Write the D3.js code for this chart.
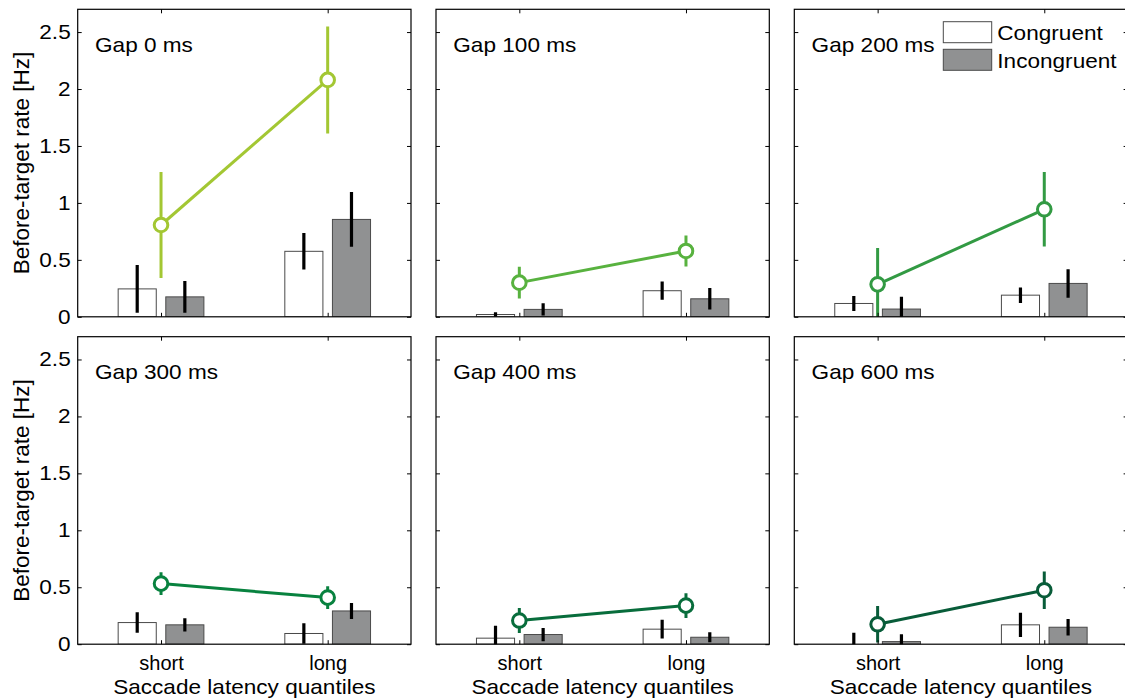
<!DOCTYPE html>
<html>
<head>
<meta charset="utf-8">
<script src="https://cdn.jsdelivr.net/npm/d3@7"></script>
<style>
  html, body { margin: 0; padding: 0; background: #fff; }
  svg { display: block; font-family: "Liberation Sans", Arial, Helvetica, sans-serif; }
</style>
</head>
<body>
<svg id="chart" width="1125" height="700"></svg>
<script>
// Saccade latency quantile categories
const categories = ["short", "long"];
// One panel per gap duration
const gapLabels = ["Gap 0 ms", "Gap 100 ms", "Gap 200 ms", "Gap 300 ms", "Gap 400 ms", "Gap 600 ms"];

// Bar values (congruent / incongruent) per panel, [short, long]
const congruent      = [[0.245, 0.575], [0.020, 0.229], [0.117, 0.190], [0.190, 0.094], [0.053, 0.132], [0.000, 0.170]];
const congruentErr   = [[0.210, 0.160], [0.020, 0.080], [0.066, 0.068], [0.090, 0.090], [0.110, 0.083], [0.100, 0.107]];
const incongruent    = [[0.175, 0.855], [0.065, 0.158], [0.068, 0.293], [0.170, 0.292], [0.085, 0.061], [0.023, 0.149]];
const incongruentErr = [[0.140, 0.240], [0.053, 0.094], [0.108, 0.125], [0.058, 0.070], [0.058, 0.044], [0.065, 0.072]];

// Overall before-target rate (line with open circles), [short, long]
const rate    = [[0.806, 2.080], [0.300, 0.578], [0.285, 0.944], [0.532, 0.409], [0.208, 0.339], [0.175, 0.474]];
const rateErr = [[0.466, 0.470], [0.140, 0.136], [0.320, 0.327], [0.100, 0.100], [0.110, 0.108], [0.160, 0.165]];

const lineColors = ["#a3c733", "#58b23f", "#329a43", "#08823f", "#086d3c", "#085c39"];

const yTicks = [0, 0.5, 1, 1.5, 2, 2.5];
const yTickLabels = ["0", "0.5", "1", "1.5", "2", "2.5"];
const legendLabels = ["Congruent", "Incongruent"];
const yLabel = "Before-target rate [Hz]";
const xLabel = "Saccade latency quantiles";

// Layout
const colLeft = [77.7, 436, 794.3];
const rowTop = [9.3, 336.7];
const pw = 333.3, ph = 307.5;
const sx = 1.13;          // horizontal text stretch
const fs = 20;

const svg = d3.select("#chart");

const x = d3.scaleLinear().domain([0.5, 2.5]).range([0, pw]);
const y = d3.scaleLinear().domain([0, 2.7]).range([ph, 0]);
const barOffset = 0.1429, barWidth = 0.2286;

gapLabels.forEach((label, i) => {
  const col = i % 3, row = Math.floor(i / 3);
  const g = svg.append("g").attr("transform", `translate(${colLeft[col]},${rowTop[row]})`);

  const clipId = "clip" + i;
  g.append("clipPath").attr("id", clipId)
    .append("rect").attr("x", 0).attr("y", 0).attr("width", pw).attr("height", ph);

  const plot = g.append("g").attr("clip-path", `url(#${clipId})`);

  // bars
  const series = [
    {vals: congruent[i], errs: congruentErr[i], off: -barOffset, fill: "#ffffff"},
    {vals: incongruent[i], errs: incongruentErr[i], off: barOffset, fill: "#909192"}
  ];
  series.forEach(s => {
    s.vals.forEach((v, k) => {
      const cx = k + 1 + s.off;
      plot.append("rect")
        .attr("x", x(cx - barWidth / 2))
        .attr("width", x(cx + barWidth / 2) - x(cx - barWidth / 2))
        .attr("y", y(v))
        .attr("height", y(0) - y(v))
        .attr("fill", s.fill)
        .attr("stroke", "#4a4a4a")
        .attr("stroke-width", 1);
    });
    s.vals.forEach((v, k) => {
      const cx = k + 1 + s.off;
      plot.append("line")
        .attr("x1", x(cx)).attr("x2", x(cx))
        .attr("y1", y(v - s.errs[k])).attr("y2", y(v + s.errs[k]))
        .attr("stroke", "#000").attr("stroke-width", 3.2);
    });
  });

  // rate line with error bars
  const color = lineColors[i];
  rate[i].forEach((v, k) => {
    plot.append("line")
      .attr("x1", x(k + 1)).attr("x2", x(k + 1))
      .attr("y1", y(v - rateErr[i][k])).attr("y2", y(v + rateErr[i][k]))
      .attr("stroke", color).attr("stroke-width", 3);
  });
  plot.append("path")
    .datum(rate[i])
    .attr("d", d3.line().x((d, k) => x(k + 1)).y(d => y(d)))
    .attr("fill", "none").attr("stroke", color).attr("stroke-width", 3);
  plot.selectAll("circle.pt").data(rate[i]).join("circle")
    .attr("class", "pt")
    .attr("cx", (d, k) => x(k + 1)).attr("cy", d => y(d))
    .attr("r", 6.8)
    .attr("fill", "#fff").attr("stroke", color).attr("stroke-width", 3);

  // axes (inward ticks on all four sides)
  const left = g.append("g").call(
    d3.axisLeft(y).tickValues(yTicks).tickSize(-4).tickSizeOuter(0).tickPadding(7)
      .tickFormat((d, k) => col === 0 ? yTickLabels[k] : ""));
  const right = g.append("g").attr("transform", `translate(${pw},0)`).call(
    d3.axisRight(y).tickValues(yTicks).tickSize(-4).tickSizeOuter(0).tickFormat(""));
  const top = g.append("g").call(
    d3.axisTop(x).tickValues([1, 2]).tickSize(-4).tickSizeOuter(0).tickFormat(""));
  const bottom = g.append("g").attr("transform", `translate(0,${ph})`).call(
    d3.axisBottom(x).tickValues([1, 2]).tickSize(-4).tickSizeOuter(0).tickPadding(12)
      .tickFormat((d, k) => row === 1 ? categories[k] : ""));

  [left, right, top, bottom].forEach(a => {
    a.select(".domain").remove();
    a.selectAll(".tick line").attr("stroke", "#000").attr("stroke-width", 1);
    a.selectAll("text")
      .attr("font-size", fs).attr("fill", "#000")
      .attr("font-family", "Liberation Sans, Arial, sans-serif");
  });
  left.selectAll("text").attr("transform", `scale(${sx},1)`).attr("x", -7 / sx);

  g.append("rect").attr("x", 0).attr("y", 0).attr("width", pw).attr("height", ph)
    .attr("fill", "none").attr("stroke", "#000").attr("stroke-width", 1.2);

  // panel title
  g.append("text")
    .attr("transform", `translate(17.3,42.4) scale(${sx},1)`)
    .attr("font-size", fs).attr("fill", "#000")
    .text(label);

  if (col === 0) {
    g.append("text")
      .attr("transform", `translate(-48.5,${ph / 2}) rotate(-90)`)
      .attr("text-anchor", "middle")
      .attr("font-size", 22.5).attr("fill", "#000")
      .text(yLabel);
  }
  if (row === 1) {
    g.append("text")
      .attr("transform", `translate(${pw / 2},${ph + 50}) scale(${sx},1)`)
      .attr("text-anchor", "middle")
      .attr("font-size", fs).attr("fill", "#000")
      .text(xLabel);
  }
});

// legend in the top-right panel
const legendFills = ["#ffffff", "#909192"];
const lg = svg.append("g").attr("transform", "translate(943.3,21.7)");
legendLabels.forEach((t, k) => {
  lg.append("rect")
    .attr("x", 0).attr("y", k * 27.6)
    .attr("width", 48.4).attr("height", 21)
    .attr("fill", legendFills[k]).attr("stroke", "#4a4a4a").attr("stroke-width", 1);
  lg.append("text")
    .attr("transform", `translate(54,${k * 27.6 + 18.5}) scale(${sx},1)`)
    .attr("font-size", fs).attr("fill", "#000")
    .text(t);
});
</script>
</body>
</html>
